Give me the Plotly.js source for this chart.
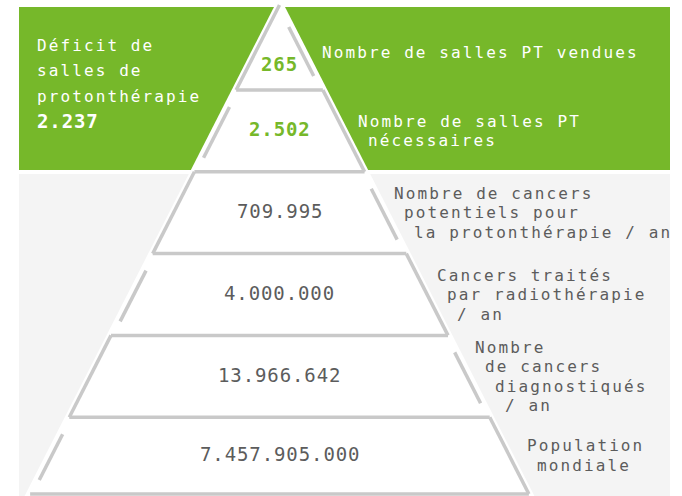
<!DOCTYPE html>
<html>
<head>
<meta charset="utf-8">
<script src="https://cdn.plot.ly/plotly-3.0.1.min.js"></script>
<style>
  html, body { margin: 0; padding: 0; background: #ffffff; }
  #chart { width: 682px; height: 496px; }
  text.annotation-text { letter-spacing: 2.1px; }
  text.annotation-text[style*="font-size: 19px"] { letter-spacing: 0.9px; }
</style>
</head>
<body>
<div id="chart"></div>
<script>
// ---------------- DATA ----------------
const levelValues = [265, 2502, 709995, 4000000, 13966642, 7457905000];
const levelLabels = [
  ["Nombre de salles PT vendues"],
  ["Nombre de salles PT", "nécessaires"],
  ["Nombre de cancers", "potentiels pour", "la protonthérapie / an"],
  ["Cancers traités", "par radiothérapie", "/ an"],
  ["Nombre", "de cancers", "diagnostiqués", "/ an"],
  ["Population", "mondiale"]
];
const deficitLabel = ["Déficit de", "salles de", "protonthérapie"];
const deficitValue = 2237;

// ---------------- STYLE / GEOMETRY ----------------
const W = 682, H = 496;
const GREEN = "#76b82a", LIGHT = "#f4f4f4", LINE = "#c9c9c9", TXT = "#5c5c5c";
const FONT = "DejaVu Sans Mono, monospace";
const CX = 279.5, APEX = 5, SLOPE = 0.51;
const hw = y => SLOPE * (y - APEX);
const bounds = [APEX];
for (let i = 0; i < 5; i++) bounds.push(90 + i * 81.8);
bounds.push(494);

const fmt = n => String(n).replace(/\B(?=(\d{3})+(?!\d))/g, ".");

// pyramid outline trace
const lx = [], ly = [];
function seg(x0, y0, x1, y1) { lx.push(x0, x1, null); ly.push(y0, y1, null); }
levelValues.forEach((v, i) => {
  const y0 = bounds[i], y1 = bounds[i + 1];
  seg(CX - hw(y1), y1, CX + hw(y1), y1);                   // bottom edge
  const pt = y0 + (i === 0 ? 22 : 17), pb = y1 - 14;
  if (i % 2 === 0) {
    seg(CX - hw(y0), y0, CX - hw(y1), y1);                 // full left edge
    seg(CX + hw(pt) - 2, pt, CX + hw(pb) - 2, pb);         // partial right
  } else {
    seg(CX + hw(y0), y0, CX + hw(y1), y1);                 // full right edge
    seg(CX - hw(pt) + 2, pt, CX - hw(pb) + 2, pb);         // partial left
  }
});

const traces = [{
  type: "scatter", mode: "lines", x: lx, y: ly,
  line: { color: LINE, width: 3.5 }, hoverinfo: "skip", connectgaps: false
}];

// backgrounds
const wy0 = 0, wy1 = H;
const ww = y => hw(y) + 4.5;
const shapes = [
  { type: "rect", xref: "x", yref: "y", x0: 19, x1: 670, y0: 7, y1: 170, fillcolor: GREEN, line: { width: 0 }, layer: "below" },
  { type: "rect", xref: "x", yref: "y", x0: 19, x1: 670, y0: 174, y1: H, fillcolor: LIGHT, line: { width: 0 }, layer: "below" },
  { type: "path", xref: "x", yref: "y", layer: "below", fillcolor: "#ffffff", line: { width: 0 },
    path: `M ${CX - ww(wy0)} ${wy0} L ${CX + ww(wy0)} ${wy0} L ${CX + ww(wy1)} ${wy1} L ${CX - ww(wy1)} ${wy1} Z` }
];

// annotations
const ann = [];
function txt(x, y, text, size, color, opts) {
  ann.push(Object.assign({
    xref: "x", yref: "y", x: x, y: y, text: text, showarrow: false,
    xanchor: "left", yanchor: "middle", align: "left",
    font: { family: FONT, size: size, color: color }
  }, opts || {}));
}
const centers = levelValues.map((v, i) => (bounds[i] + bounds[i + 1]) / 2);
const numY = centers.map((c, i) => i === 0 ? 64 : c - 1.5);
const labY = centers.map((c, i) => i === 0 ? 52 : c);
const labOff = [17, 17, 17, 18, 19, 21];

levelValues.forEach((v, i) => {
  const green = i < 2;
  ann.push({
    xref: "x", yref: "y", x: CX, y: numY[i], text: fmt(v), showarrow: false,
    xanchor: "center", yanchor: "middle", align: "center",
    font: { family: FONT, size: 19, color: green ? GREEN : TXT, weight: green ? "bold" : "normal" }
  });
  const lines = levelLabels[i];
  lines.forEach((t, j) => {
    const y = labY[i] + (j - (lines.length - 1) / 2) * 19.5;
    txt(CX + hw(y) + labOff[i], y, t, 16, green ? "#ffffff" : TXT);
  });
});

deficitLabel.forEach((t, j) => txt(35, 45 + j * 25.5, t, 16, "#ffffff"));
ann.push({
  xref: "x", yref: "y", x: 35, y: 121, text: fmt(deficitValue), showarrow: false,
  xanchor: "left", yanchor: "middle", align: "left",
  font: { family: FONT, size: 19, color: "#ffffff", weight: "bold" }
});

const layout = {
  width: W, height: H,
  margin: { l: 0, r: 0, t: 0, b: 0, pad: 0 },
  paper_bgcolor: "#ffffff", plot_bgcolor: "#ffffff",
  showlegend: false,
  xaxis: { range: [0, W], visible: false, fixedrange: true },
  yaxis: { range: [H, 0], visible: false, fixedrange: true },
  shapes: shapes,
  annotations: ann
};

Plotly.newPlot("chart", traces, layout, { staticPlot: true, displayModeBar: false });
</script>
</body>
</html>
